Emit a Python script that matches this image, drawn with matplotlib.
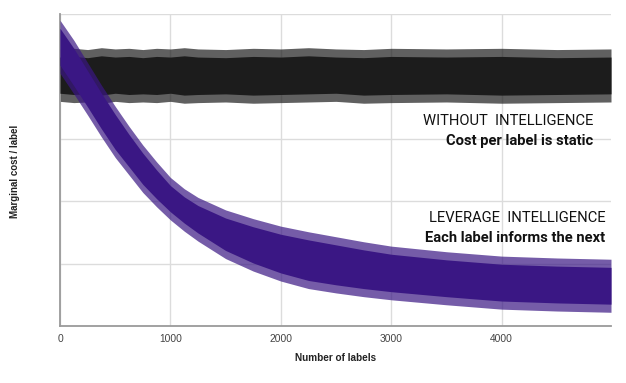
import numpy as np
import matplotlib.pyplot as plt

# x positions (number of labels) where the band edges were read
labels_x = [0, 125, 250, 375, 500, 625, 750, 875, 1000, 1125, 1250, 1500, 1750,
            2000, 2250, 2500, 2750, 3000, 3500, 4000, 4500, 4990]

# WITHOUT INTELLIGENCE: flat noisy band (spike extremes)
static_hi = [4.44, 4.45, 4.43, 4.46, 4.44, 4.45, 4.43, 4.45, 4.44, 4.46, 4.44, 4.43,
             4.45, 4.44, 4.46, 4.44, 4.43, 4.45, 4.44, 4.45, 4.43, 4.44]
static_lo = [3.60, 3.58, 3.59, 3.57, 3.60, 3.58, 3.59, 3.58, 3.60, 3.57, 3.58, 3.59,
             3.57, 3.58, 3.59, 3.60, 3.57, 3.58, 3.59, 3.57, 3.58, 3.59]

# LEVERAGE INTELLIGENCE: decaying noisy band (spike extremes)
smart_hi = [4.90, 4.58, 4.22, 3.86, 3.52, 3.20, 2.90, 2.63, 2.38, 2.20, 2.06, 1.86, 1.72,
            1.60, 1.51, 1.43, 1.35, 1.28, 1.19, 1.12, 1.09, 1.07]
smart_lo = [4.05, 3.72, 3.38, 3.03, 2.70, 2.42, 2.14, 1.91, 1.70, 1.52, 1.36, 1.08, 0.88,
            0.72, 0.60, 0.53, 0.47, 0.42, 0.34, 0.27, 0.24, 0.22]

xticks = [0, 1000, 2000, 3000, 4000]

fig = plt.figure(figsize=(6.26, 3.83), dpi=100)
ax = fig.add_axes([60 / 626, 57 / 383, 551 / 626, 312 / 383])

black = '#1c1c1c'
purple = '#3a1784'
fray = 0.13  # width of the ragged edge of each band

shi, slo = np.array(static_hi), np.array(static_lo)
phi, plo = np.array(smart_hi), np.array(smart_lo)

ax.fill_between(labels_x, slo, shi, color=black, alpha=0.7, lw=0, zorder=2)
ax.fill_between(labels_x, slo + fray, shi - fray, color=black, lw=0, zorder=3)

ax.fill_between(labels_x, plo, phi, color=purple, alpha=0.7, lw=0, zorder=4)
ax.fill_between(labels_x, plo + fray, phi - fray, color=purple, lw=0, zorder=5)

ax.set_xlim(0, 4990)
ax.set_ylim(0, 5)
ax.set_xticks(xticks)
ax.set_xticklabels([str(t) for t in xticks], fontfamily='Liberation Sans', fontsize=7.4, color='#444444')
ax.set_yticks([1, 2, 3, 4, 5])
ax.set_yticklabels([])
ax.tick_params(length=0, pad=6)
ax.grid(True, color='#dcdcdc', lw=1, zorder=0)
ax.set_axisbelow(True)
for s in ['top', 'right']:
    ax.spines[s].set_visible(False)
for s in ['left', 'bottom']:
    ax.spines[s].set_color('#9a9a9a')
    ax.spines[s].set_linewidth(1.3)

ann = dict(ha='right', va='center', fontfamily='Roboto', fontsize=10.6, color='#111111', zorder=6)
ax.text(4832, 3.285, 'WITHOUT  INTELLIGENCE', **ann)
ax.text(4832, 2.965, 'Cost per label is static', fontweight='bold', **ann)
ax.text(4941, 1.73, 'LEVERAGE  INTELLIGENCE', **ann)
ax.text(4941, 1.41, 'Each label informs the next', fontweight='bold', **ann)

fig.text(15 / 626, 1 - 171 / 383, 'Marginal cost / label', rotation=90, ha='center', va='center',
         fontfamily='Liberation Sans', fontweight='bold', fontsize=7, color='#222222')
fig.text(336 / 626, 1 - 358 / 383, 'Number of labels', ha='center', va='center',
         fontfamily='Liberation Sans', fontweight='bold', fontsize=7.2, color='#222222')

fig.savefig('out.png', dpi=100)
